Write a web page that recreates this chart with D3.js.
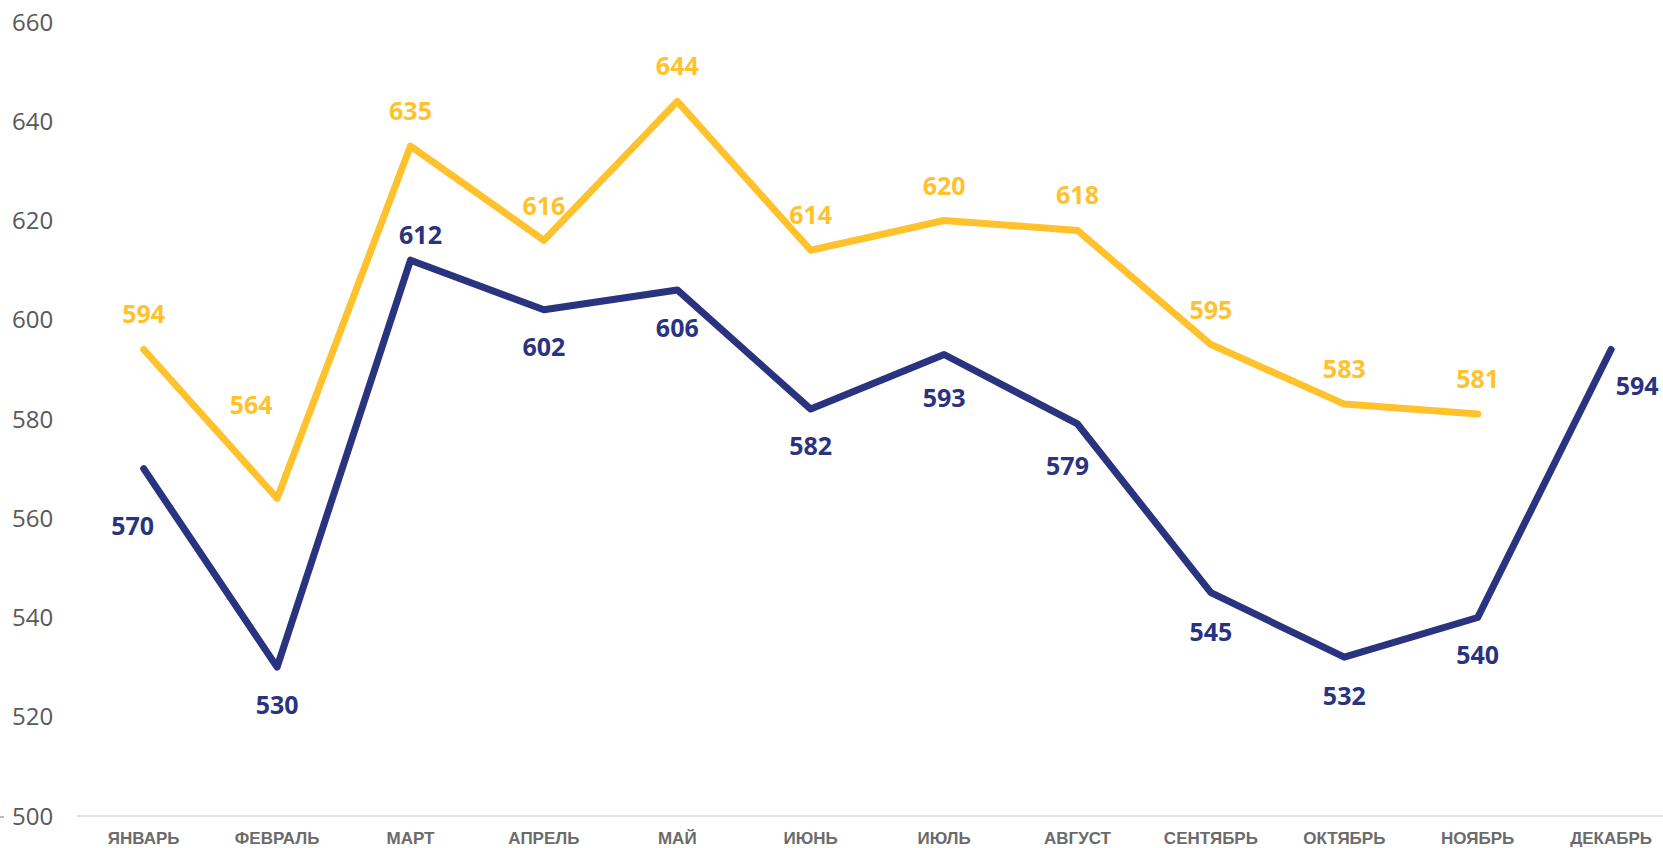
<!DOCTYPE html>
<html>
<head>
<meta charset="utf-8">
<script src="https://cdn.jsdelivr.net/npm/d3@7"></script>
<style>
  html, body { margin: 0; padding: 0; background: #fff; overflow: hidden; }
  svg { display: block; }
</style>
</head>
<body>
<svg id="chart" width="1663" height="848"></svg>
<script>
// ---- data ----
const months = ["ЯНВАРЬ", "ФЕВРАЛЬ", "МАРТ", "АПРЕЛЬ", "МАЙ", "ИЮНЬ", "ИЮЛЬ", "АВГУСТ", "СЕНТЯБРЬ", "ОКТЯБРЬ", "НОЯБРЬ", "ДЕКАБРЬ"];
const seriesYellow = [594, 564, 635, 616, 644, 614, 620, 618, 595, 583, 581, null];
const seriesNavy = [570, 530, 612, 602, 606, 582, 593, 579, 545, 532, 540, 594];
const yTicks = [500, 520, 540, 560, 580, 600, 620, 640, 660];

// label placement (offsets from point, px)
const yellowLabelOffsets = [[0,-35],[-26,-93],[0,-35],[0,-34],[0,-35],[0,-35],[0,-34],[0,-35],[0,-34],[0,-35],[0,-35],[0,0]];
const navyLabelOffsets = [[-11,57],[0,38],[10,-25],[0,37],[0,38],[0,37],[0,44],[-10,42],[0,39],[0,39],[0,38],[26,37]];

const YELLOW = "#FFC22D";
const NAVY = "#29337F";

const svg = d3.select("#chart");

const x = d3.scaleBand().domain(months).range([77, 77 + 12 * 133.4]).padding(0);
const y = d3.scaleLinear().domain([500, 660]).range([816, 22]);
const cx = m => x(m) + x.bandwidth() / 2;

// y-axis labels
svg.append("g").selectAll("text").data(yTicks).join("text")
  .attr("x", 12).attr("y", d => y(d)).attr("dy", "0.357em")
  .attr("font-family", "'Open Sans', sans-serif").attr("font-size", 24)
  .attr("fill", "#595959").text(d => d);

// small tick at left
svg.append("line").attr("x1", 0).attr("x2", 4).attr("y1", y(500) + 1).attr("y2", y(500) + 1)
  .attr("stroke", "#8c8c8c").attr("stroke-width", 1.2);

// x axis line
svg.append("line").attr("x1", x.range()[0]).attr("x2", x.range()[1])
  .attr("y1", y(500)).attr("y2", y(500))
  .attr("stroke", "#d9d9d9").attr("stroke-width", 1.5);

// x-axis labels
svg.append("g").selectAll("text").data(months).join("text")
  .attr("x", d => cx(d)).attr("y", 844).attr("text-anchor", "middle")
  .attr("font-family", "'Liberation Sans', Arial, sans-serif").attr("font-weight", "bold")
  .attr("font-size", 17).attr("fill", "#6b6b6b").text(d => d);

function drawSeries(values, color, offsets) {
  const pts = months.map((m, i) => ({ m, v: values[i], i })).filter(d => d.v != null);
  const line = d3.line().x(d => cx(d.m)).y(d => y(d.v));
  svg.append("path").datum(pts).attr("d", line)
    .attr("fill", "none").attr("stroke", color).attr("stroke-width", 7)
    .attr("stroke-linejoin", "round").attr("stroke-linecap", "round");
  svg.append("g").selectAll("text").data(pts).join("text")
    .attr("x", d => cx(d.m) + offsets[d.i][0])
    .attr("y", d => y(d.v) + offsets[d.i][1])
    .attr("dy", "0.357em").attr("text-anchor", "middle")
    .attr("font-family", "'Open Sans', sans-serif").attr("font-weight", "bold")
    .attr("font-size", 25).attr("fill", color).text(d => d.v);
}

drawSeries(seriesYellow, YELLOW, yellowLabelOffsets);
drawSeries(seriesNavy, NAVY, navyLabelOffsets);
</script>
</body>
</html>
